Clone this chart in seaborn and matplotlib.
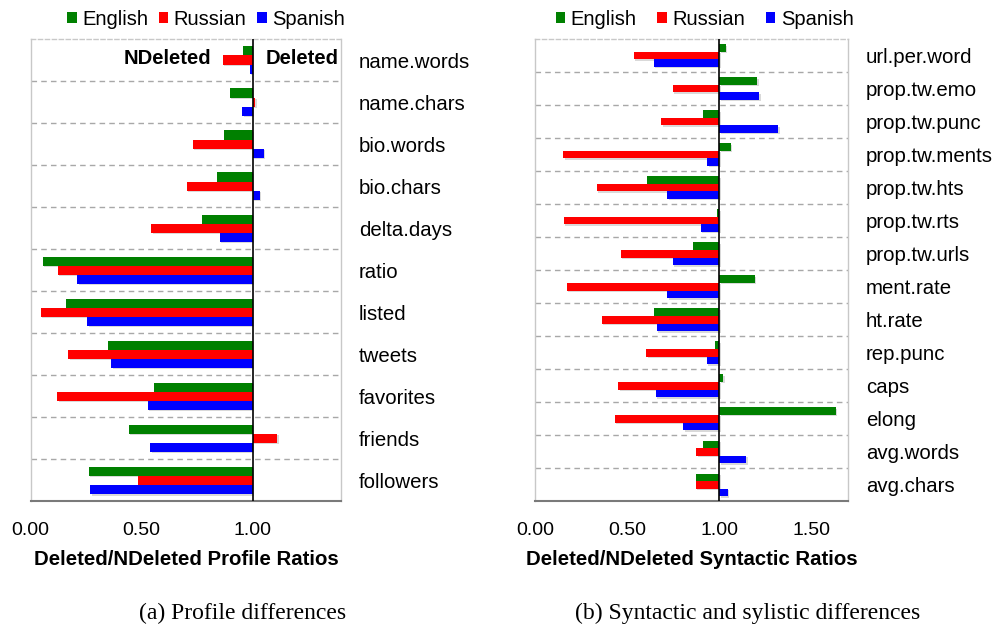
import matplotlib
matplotlib.use("Agg")
import matplotlib.pyplot as plt
import matplotlib.patheffects as pe
from matplotlib.patches import Patch
from matplotlib.ticker import FixedLocator, FuncFormatter
import pandas as pd
import seaborn as sns

# ---- data: Deleted / NDeleted ratios per language ----
languages = ["English", "Russian", "Spanish"]
colors = ["#008000", "#ff0000", "#0000ff"]

profile_features = ["name.words", "name.chars", "bio.words", "bio.chars", "delta.days",
                    "ratio", "listed", "tweets", "favorites", "friends", "followers"]
profile_english = [0.958, 0.898, 0.871, 0.842, 0.772, 0.056, 0.161, 0.350, 0.557, 0.442, 0.262]
profile_russian = [0.865, 1.012, 0.730, 0.704, 0.544, 0.122, 0.047, 0.170, 0.121, 1.111, 0.482]
profile_spanish = [0.988, 0.953, 1.051, 1.033, 0.853, 0.211, 0.256, 0.364, 0.527, 0.539, 0.269]

syntactic_features = ["url.per.word", "prop.tw.emo", "prop.tw.punc", "prop.tw.ments",
                      "prop.tw.hts", "prop.tw.rts", "prop.tw.urls", "ment.rate", "ht.rate",
                      "rep.punc", "caps", "elong", "avg.words", "avg.chars"]
syntactic_english = [1.035, 1.205, 0.910, 1.062, 0.605, 0.988, 0.857, 1.192, 0.647,
                     0.975, 1.020, 1.633, 0.908, 0.875]
syntactic_russian = [0.535, 0.748, 0.685, 0.151, 0.334, 0.154, 0.464, 0.171, 0.361,
                     0.602, 0.451, 0.433, 0.875, 0.872]
syntactic_spanish = [0.645, 1.216, 1.319, 0.935, 0.717, 0.899, 0.748, 0.717, 0.661,
                     0.933, 0.654, 0.804, 1.145, 1.046]

profile_ticks = [0.0, 0.5, 1.0]
syntactic_ticks = [0.0, 0.5, 1.0, 1.5]


def long_frame(features, eng, rus, spa):
    rows = []
    for lang, vals in zip(languages, [eng, rus, spa]):
        for f, v in zip(features, vals):
            rows.append({"feature": f, "language": lang, "ratio": v})
    df = pd.DataFrame(rows)
    # bars grow out of the 1.0 baseline
    df["delta"] = df["ratio"] - 1.0
    return df


SANS = ["Liberation Sans", "DejaVu Sans"]
SERIF = ["Liberation Serif", "DejaVu Serif"]

sns.set_style("white")
plt.rcParams["font.family"] = SANS
plt.rcParams["text.color"] = "black"
plt.rcParams["axes.labelcolor"] = "black"
plt.rcParams["xtick.color"] = "black"
plt.rcParams["ytick.color"] = "black"

fig = plt.figure(figsize=(9.95, 6.27), dpi=100)
ax_a = fig.add_axes([0.0307, 0.2002, 0.3124, 0.7376])
ax_b = fig.add_axes([0.5380, 0.2002, 0.3146, 0.7376])


def draw_panel(ax, df, features, xmax, ticks, width, xlabel):
    sns.barplot(data=df, x="delta", y="feature", hue="language", order=features,
                hue_order=languages, palette=colors, orient="h", width=width,
                saturation=1, errorbar=None, linewidth=0, legend=False, ax=ax)
    shadow = [pe.SimplePatchShadow(offset=(1.0, -1.0), shadow_rgbFace="#a0a0a0", alpha=0.4),
              pe.Normal()]
    for p in ax.patches:
        p.set_path_effects(shadow)
    n = len(features)
    ax.set_ylim(n - 0.5, -0.5)
    ax.set_xlim(-1.0, xmax - 1.0)
    for k in range(n - 1):
        ax.axhline(k + 0.5, color="#a8a8a8", lw=1.0, ls=(0, (4, 3)), zorder=0)
    ax.axvline(0.0, color="black", lw=1.2, zorder=3)

    ax.xaxis.set_major_locator(FixedLocator([t - 1.0 for t in ticks]))
    ax.xaxis.set_major_formatter(FuncFormatter(lambda v, pos: f"{v + 1.0:.2f}"))
    ax.tick_params(axis="x", direction="in", length=5, width=1, color="#555555",
                   labelsize=14, pad=15, labelcolor="black")
    ax.yaxis.tick_right()
    ax.tick_params(axis="y", length=0, pad=12.7, labelsize=14.7, labelcolor="black")
    ax.set_ylabel("")
    ax.set_xlabel(xlabel, fontsize=14.7, fontweight="bold", labelpad=8, color="black")

    for side in ["left", "right", "top"]:
        ax.spines[side].set_visible(True)
        ax.spines[side].set_color("#c8c8c8")
        ax.spines[side].set_linewidth(1.0)
    ax.spines["top"].set_linestyle((0, (3, 2)))
    ax.spines["bottom"].set_visible(True)
    ax.spines["bottom"].set_color("#7a7a7a")
    ax.spines["bottom"].set_linewidth(1.5)


df_a = long_frame(profile_features, profile_english, profile_russian, profile_spanish)
df_b = long_frame(syntactic_features, syntactic_english, syntactic_russian, syntactic_spanish)

draw_panel(ax_a, df_a, profile_features, 1.4, profile_ticks, 0.65,
           "Deleted/NDeleted Profile Ratios")
draw_panel(ax_b, df_b, syntactic_features, 1.7, syntactic_ticks, 0.69,
           "Deleted/NDeleted Syntactic Ratios")

# side annotations in the profile panel
ax_a.text(0.812 - 1.0, -0.03, "NDeleted", ha="right", va="center",
          fontsize=14.6, fontweight="bold")
ax_a.text(1.058 - 1.0, -0.03, "Deleted", ha="left", va="center",
          fontsize=14.6, fontweight="bold")

handles = [Patch(facecolor=c, edgecolor="none", label=l) for c, l in zip(colors, languages)]
fig.legend(handles=handles, loc="center left", bbox_to_anchor=(0.0673, 0.969), ncol=3,
           frameon=False, fontsize=14.5, handlelength=0.48, handleheight=0.45,
           handletextpad=0.27, columnspacing=0.52, borderpad=0, borderaxespad=0)
fig.legend(handles=handles, loc="center left", bbox_to_anchor=(0.5585, 0.969), ncol=3,
           frameon=False, fontsize=14.5, handlelength=0.48, handleheight=0.45,
           handletextpad=0.27, columnspacing=1.02, borderpad=0, borderaxespad=0)

fig.text(243 / 995, 1 - 613 / 627, "(a) Profile differences", ha="center", va="center",
         fontsize=17, family=SERIF)
fig.text(748 / 995, 1 - 613 / 627, "(b) Syntactic and sylistic differences", ha="center",
         va="center", fontsize=17, family=SERIF)

fig.savefig("out.png", dpi=100)
